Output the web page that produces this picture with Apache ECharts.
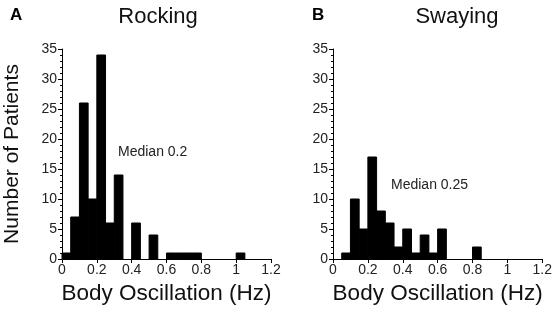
<!DOCTYPE html>
<html>
<head>
<meta charset="utf-8">
<script src="https://cdn.jsdelivr.net/npm/echarts@6/dist/echarts.min.js"></script>
<style>
	html, body { margin: 0; padding: 0; background: #fff; }
	#main { width: 555px; height: 313px; }
</style>
</head>
<body>
<div id="main"></div>
<script>
// 히스토그램 구간 (폭 0.05 Hz)
var binWidth = 0.05;
var binStarts = [0, 0.05, 0.1, 0.15, 0.2, 0.25, 0.3, 0.35, 0.4, 0.45, 0.5, 0.55,
	0.6, 0.65, 0.7, 0.75, 0.8, 0.85, 0.9, 0.95, 1.0, 1.05, 1.1, 1.15];

// 환자 수
var rockingCounts = [1, 7, 26, 10, 34, 6, 14, 0, 6, 0, 4, 0, 1, 1, 1, 1, 0, 0, 0, 0, 1, 0, 0, 0];
var swayingCounts = [0, 1, 10, 5, 17, 8, 6, 2, 5, 1, 4, 1, 5, 0, 0, 0, 2, 0, 0, 0, 0, 0, 0, 0];

var panelTitles = ['Rocking', 'Swaying'];
var panelLetters = ['A', 'B'];
var medianLabels = ['Median 0.2', 'Median 0.25'];

var font = 'Liberation Sans, Arial, sans-serif';

// [시작, 끝, 수] 형태로 변환
function toBins(counts) {
	var out = [];
	for (var i = 0; i < binStarts.length; i++) {
		if (counts[i] > 0) out.push([binStarts[i], binStarts[i] + binWidth, counts[i]]);
	}
	return out;
}

function renderBin(params, api) {
	var p0 = api.coord([api.value(0), api.value(2)]);
	var p1 = api.coord([api.value(1), 0]);
	return {
		type: 'rect',
		shape: { x: p0[0], y: p0[1], width: p1[0] - p0[0], height: p1[1] - p0[1] },
		style: { fill: '#000', stroke: '#000', lineWidth: 1 }
	};
}

function xAxisOpt(idx) {
	return {
		type: 'value', gridIndex: idx, min: 0, max: 1.2, interval: 0.2,
		name: 'Body Oscillation (Hz)', nameLocation: 'middle', nameGap: 20,
		nameTextStyle: { fontFamily: font, fontSize: 22.5, color: '#111' },
		axisLine: { lineStyle: { color: '#000', width: 1 } },
		axisTick: { show: true, length: 4, lineStyle: { color: '#000' } },
		axisLabel: { fontFamily: font, fontSize: 14, color: '#222', margin: 4 },
		splitLine: { show: false }
	};
}

function yAxisOpt(idx) {
	return {
		type: 'value', gridIndex: idx, min: 0, max: 35, interval: 5,
		name: idx === 0 ? 'Number of Patients' : '', nameLocation: 'middle', nameGap: 39,
		nameTextStyle: { fontFamily: font, fontSize: 21, color: '#111' },
		axisLine: { show: true, lineStyle: { color: '#000', width: 1 } },
		axisTick: { show: true, length: 4, lineStyle: { color: '#000' } },
		minorTick: { show: true, splitNumber: 5, length: 2, lineStyle: { color: '#000' } },
		axisLabel: { fontFamily: font, fontSize: 14, color: '#222', margin: 5 },
		splitLine: { show: false }
	};
}

var chart = echarts.init(document.getElementById('main'));
var option = {
	animation: false,
	backgroundColor: '#fff',
	title: [
		{ text: panelLetters[0], left: 5, top: 2, textStyle: { fontFamily: font, fontSize: 17, fontWeight: 'bold', color: '#000' } },
		{ text: panelTitles[0], left: 153, top: 1, textAlign: 'center', textStyle: { fontFamily: font, fontSize: 22, fontWeight: 'normal', color: '#111' } },
		{ text: panelLetters[1], left: 307, top: 2, textStyle: { fontFamily: font, fontSize: 17, fontWeight: 'bold', color: '#000' } },
		{ text: panelTitles[1], left: 452, top: 1, textAlign: 'center', textStyle: { fontFamily: font, fontSize: 22, fontWeight: 'normal', color: '#111' } }
	],
	grid: [
		{ left: 62, top: 49, width: 209, height: 210 },
		{ left: 333, top: 49, width: 210, height: 210 }
	],
	xAxis: [xAxisOpt(0), xAxisOpt(1)],
	yAxis: [yAxisOpt(0), yAxisOpt(1)],
	graphic: [
		{ type: 'text', left: 118, top: 145, style: { text: medianLabels[0], fontFamily: font, fontSize: 14, fill: '#222' } },
		{ type: 'text', left: 391, top: 178, style: { text: medianLabels[1], fontFamily: font, fontSize: 14, fill: '#222' } }
	],
	series: [
		{ type: 'custom', xAxisIndex: 0, yAxisIndex: 0, renderItem: renderBin, encode: { x: [0, 1], y: 2 }, data: toBins(rockingCounts) },
		{ type: 'custom', xAxisIndex: 1, yAxisIndex: 1, renderItem: renderBin, encode: { x: [0, 1], y: 2 }, data: toBins(swayingCounts) }
	]
};
chart.setOption(option);
</script>
</body>
</html>
